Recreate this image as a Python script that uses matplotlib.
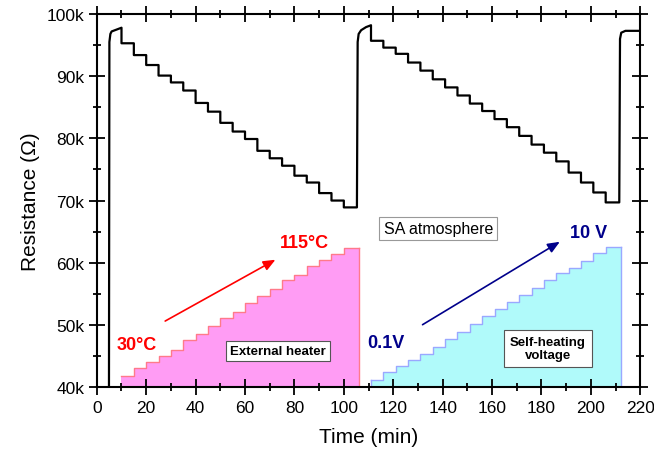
import numpy as np
import matplotlib.pyplot as plt

plt.rcParams['font.family'] = ['Liberation Sans', 'DejaVu Sans']

# resistance (k-ohm), one level per 5-min step
cycle1_start = 10
cycle1_levels = [95.3, 93.4, 91.8, 90.1, 89.0, 87.7, 85.7, 84.3, 82.5, 81.1,
                 79.9, 78.0, 76.8, 75.6, 74.0, 72.9, 71.2, 70.0, 68.9]
cycle2_start = 111
cycle2_levels = [95.7, 94.6, 93.6, 92.2, 90.9, 89.5, 88.2, 86.9, 85.6, 84.4,
                 83.1, 81.8, 80.4, 79.0, 77.7, 76.3, 74.5, 72.9, 71.3, 69.7]
step_len = 5

# recovery parts of the curve
rise1_t = [4.9, 5.1, 5.5, 6.0, 8.0, 10.0]
rise1_R = [30.0, 95.5, 96.8, 97.2, 97.5, 97.8]
rise2_t = [105.3, 105.6, 106.0, 107.0, 109.0, 111.0]
rise2_R = [68.9, 95.5, 96.8, 97.4, 97.9, 98.2]
rise3_t = [211.5, 211.8, 212.3, 214.0, 220.0]
rise3_R = [69.7, 96.0, 97.0, 97.3, 97.3]

# staircases of heater temperature / self-heating voltage (drawn in R units)
heater_start, heater_end = 10, 106
heater_levels = [41.8, 43.0, 44.0, 45.0, 46.0, 47.5, 48.6, 49.9, 51.1, 52.1,
                 53.6, 54.6, 55.7, 57.3, 58.1, 59.4, 60.4, 61.4, 62.3]
volt_start, volt_end = 111, 212
volt_levels = [41.1, 42.4, 43.4, 44.3, 45.3, 46.5, 47.7, 48.9, 50.1, 51.4,
               52.5, 53.7, 54.8, 56.0, 57.2, 58.3, 59.2, 60.3, 61.5, 62.6]


def stairs(t0, levels, dt):
    xs, ys = [], []
    for i, lv in enumerate(levels):
        t = t0 + i * dt
        if i > 0:
            xs.append(t)
            ys.append(levels[i - 1])
        xs.append(t)
        ys.append(lv)
    return xs, ys


s1x, s1y = stairs(cycle1_start, cycle1_levels, step_len)
s2x, s2y = stairs(cycle2_start, cycle2_levels, step_len)
t = rise1_t + s1x + rise2_t + s2x + rise3_t
R = rise1_R + s1y + rise2_R + s2y + rise3_R

fig = plt.figure(figsize=(6.54, 4.56), dpi=100)
ax = fig.add_axes([0.148, 0.149, 0.831, 0.818])

hx = list(heater_start + step_len * np.arange(len(heater_levels))) + [heater_end]
hy = heater_levels + [heater_levels[-1]]
ax.fill_between(hx, 40, hy, step='post', facecolor='#ff9cf4', edgecolor='none', zorder=1)
ax.step(hx, hy, where='post', color='#ff7a8a', lw=1, zorder=1)
ax.plot([heater_end, heater_end], [40, hy[-1]], color='#ff7a8a', lw=1, zorder=1)

vx = list(volt_start + step_len * np.arange(len(volt_levels))) + [volt_end]
vy = volt_levels + [volt_levels[-1]]
ax.fill_between(vx, 40, vy, step='post', facecolor='#b0fafa', edgecolor='none', zorder=1)
ax.step(vx, vy, where='post', color='#9aa8ff', lw=1, zorder=1)
ax.plot([volt_end, volt_end], [40, vy[-1]], color='#9aa8ff', lw=1, zorder=1)
ax.plot([volt_start, volt_start], [40, vy[0]], color='#9aa8ff', lw=1, zorder=1)

ax.plot(t, R, color='black', lw=1.6, zorder=3)

ax.set_xlim(0, 220)
ax.set_ylim(40, 100)
ax.set_xticks(np.arange(0, 221, 20))
ax.set_xticks(np.arange(0, 221, 10), minor=True)
ax.set_yticks(np.arange(40, 101, 10))
ax.set_yticks(np.arange(40, 101, 5), minor=True)
ax.set_yticklabels([f'{v}k' for v in range(40, 101, 10)])
ax.tick_params(which='both', direction='inout', top=True, right=True,
               labelsize=12.5, width=1.3)
ax.tick_params(which='major', length=11)
ax.tick_params(which='minor', length=6)
for sp in ax.spines.values():
    sp.set_linewidth(1.5)

ax.set_xlabel('Time (min)', fontsize=15, labelpad=9)
ax.set_ylabel('Resistance (Ω)', fontsize=15, labelpad=5)

ax.text(8.2, 46.9, '30°C', color='red', fontsize=13, fontweight='bold', va='center')
ax.text(74, 63.3, '115°C', color='red', fontsize=13, fontweight='bold', va='center')
ax.annotate('', xy=(73.3, 60.7), xytext=(26.7, 50.4),
            arrowprops=dict(arrowstyle='-|>,head_length=0.6,head_width=0.25',
                            color='red', lw=1.2, mutation_scale=12))
ax.text(109.5, 47.2, '0.1V', color='#00008b', fontsize=13, fontweight='bold', va='center')
ax.text(191.5, 64.9, '10 V', color='#00008b', fontsize=13, fontweight='bold', va='center')
ax.annotate('', xy=(188.4, 63.6), xytext=(130.9, 49.8),
            arrowprops=dict(arrowstyle='-|>,head_length=0.6,head_width=0.25',
                            color='#00008b', lw=1.2, mutation_scale=12))

box = dict(boxstyle='square,pad=0.3', facecolor='white', edgecolor='#555555', lw=0.8)
ax.text(73.3, 45.8, 'External heater', fontsize=9.5, fontweight='bold',
        ha='center', va='center', bbox=box, zorder=4)
ax.text(182.5, 46.2, 'Self-heating\nvoltage', fontsize=9.5, fontweight='bold',
        ha='center', va='center', bbox=dict(boxstyle='square,pad=0.45', facecolor='white',
                                            edgecolor='#555555', lw=0.8), zorder=4)
ax.text(138.2, 65.5, 'SA atmosphere', fontsize=11.5, ha='center', va='center',
        bbox=dict(boxstyle='square,pad=0.28', facecolor='white', edgecolor='#999999', lw=0.8),
        zorder=4)

fig.savefig('out.png', dpi=100)
